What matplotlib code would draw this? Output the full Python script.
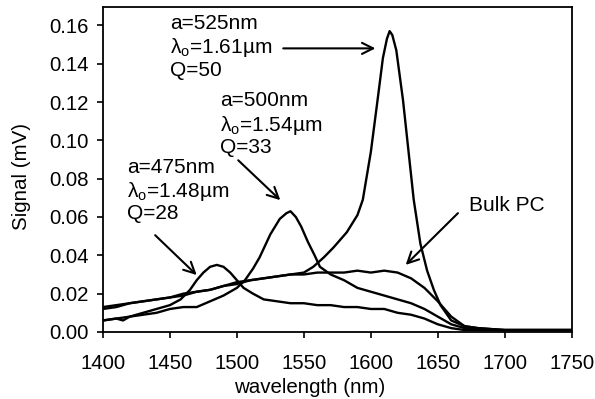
import matplotlib
matplotlib.use("Agg")
import matplotlib.pyplot as plt

plt.rcParams['font.family'] = ['Liberation Sans', 'DejaVu Sans']
plt.rcParams['mathtext.default'] = 'regular'

# ---- data ----
wl_bulk = [1400, 1410, 1420, 1430, 1440, 1450, 1460, 1470, 1480, 1490, 1500, 1510, 1520,
           1530, 1540, 1550, 1560, 1570, 1580, 1590, 1600, 1610, 1620, 1630, 1640, 1650,
           1660, 1670, 1680, 1700, 1720, 1750]
sig_bulk = [0.013, 0.014, 0.015, 0.016, 0.017, 0.018, 0.020, 0.021, 0.022, 0.024, 0.025,
            0.027, 0.028, 0.029, 0.030, 0.030, 0.031, 0.031, 0.031, 0.032, 0.031, 0.032,
            0.031, 0.028, 0.023, 0.016, 0.008, 0.003, 0.002, 0.001, 0.001, 0.001]

wl_525 = [1400, 1410, 1420, 1430, 1440, 1450, 1460, 1470, 1480, 1490, 1500, 1510, 1520,
          1530, 1540, 1550, 1557, 1565, 1572, 1582, 1590, 1594, 1600, 1605, 1609, 1612,
          1614, 1616, 1619, 1624, 1628, 1632, 1637, 1642, 1647, 1652, 1660, 1670, 1680,
          1700, 1750]
sig_525 = [0.012, 0.013, 0.015, 0.016, 0.017, 0.018, 0.019, 0.021, 0.022, 0.024, 0.026,
           0.027, 0.028, 0.029, 0.030, 0.031, 0.034, 0.039, 0.044, 0.052, 0.061, 0.069,
           0.094, 0.121, 0.143, 0.153, 0.157, 0.155, 0.147, 0.121, 0.095, 0.069, 0.046,
           0.032, 0.022, 0.014, 0.006, 0.003, 0.002, 0.001, 0.001]

wl_500 = [1400, 1410, 1415, 1420, 1430, 1440, 1450, 1460, 1470, 1480, 1490, 1500, 1506,
          1512, 1517, 1525, 1532, 1537, 1540, 1544, 1548, 1553, 1558, 1562, 1570, 1580,
          1590, 1600, 1610, 1620, 1630, 1640, 1650, 1660, 1670, 1680, 1750]
sig_500 = [0.006, 0.007, 0.006, 0.008, 0.009, 0.010, 0.012, 0.013, 0.013, 0.016, 0.019,
           0.023, 0.027, 0.033, 0.039, 0.051, 0.059, 0.062, 0.063, 0.060, 0.055, 0.047,
           0.040, 0.034, 0.030, 0.027, 0.023, 0.021, 0.019, 0.017, 0.015, 0.012, 0.008,
           0.004, 0.002, 0.001, 0.001]

wl_475 = [1400, 1410, 1420, 1430, 1440, 1450, 1458, 1465, 1470, 1475, 1480, 1485, 1490,
          1495, 1500, 1505, 1512, 1520, 1530, 1540, 1550, 1560, 1570, 1580, 1590, 1600,
          1610, 1620, 1630, 1640, 1650, 1660, 1670, 1750]
sig_475 = [0.006, 0.007, 0.008, 0.010, 0.012, 0.014, 0.017, 0.022, 0.027, 0.031, 0.034,
           0.035, 0.034, 0.031, 0.027, 0.023, 0.020, 0.017, 0.016, 0.015, 0.015, 0.014,
           0.014, 0.013, 0.013, 0.012, 0.012, 0.010, 0.009, 0.007, 0.004, 0.002, 0.001,
           0.001]

x_ticks = [1400, 1450, 1500, 1550, 1600, 1650, 1700, 1750]
y_ticks = [0.00, 0.02, 0.04, 0.06, 0.08, 0.10, 0.12, 0.14, 0.16]

fig = plt.figure(figsize=(5.95, 3.99), dpi=100)
ax = fig.add_axes([0.173, 0.168, 0.788, 0.814])

for wl, s in [(wl_bulk, sig_bulk), (wl_525, sig_525), (wl_500, sig_500), (wl_475, sig_475)]:
    ax.plot(wl, s, color='black', lw=1.7)

ax.set_xlim(1400, 1750)
ax.set_ylim(0, 0.1695)
ax.set_xticks(x_ticks)
ax.set_yticks(y_ticks)
ax.set_yticklabels([f"{v:.2f}" for v in y_ticks])
ax.tick_params(direction='out', length=4, width=1.2, labelsize=14.7)
ax.tick_params(axis='x', pad=12)
ax.tick_params(axis='y', pad=6)
for sp in ax.spines.values():
    sp.set_linewidth(1.3)

ax.set_xlabel('wavelength (nm)', fontsize=14.8)
ax.set_ylabel('Signal (mV)', fontsize=14.8)
ax.xaxis.set_label_coords(0.441, -0.143)
ax.yaxis.set_label_coords(-0.154, 0.48)

fs = 15
def block(x, ys, a, lam, q):
    ax.text(x, ys[0], a, fontsize=fs, va='center', ha='left')
    ax.text(x, ys[1], r'λ$_{o}$=' + lam, fontsize=fs, va='center', ha='left')
    ax.text(x, ys[2], q, fontsize=fs, va='center', ha='left')

block(1450, [0.161, 0.1485, 0.1365], 'a=525nm', '1.61µm', 'Q=50')
block(1487.5, [0.121, 0.108, 0.0964], 'a=500nm', '1.54µm', 'Q=33')
block(1418, [0.086, 0.0735, 0.062], 'a=475nm', '1.48µm', 'Q=28')
ax.text(1673, 0.066, 'Bulk PC', fontsize=fs, va='center', ha='left')

ap = dict(arrowstyle='->', color='black', lw=1.5, mutation_scale=20, shrinkA=0, shrinkB=0)
ax.annotate('', xy=(1603.4, 0.148), xytext=(1534.6, 0.148), arrowprops=ap)
ax.annotate('', xy=(1532.4, 0.0688), xytext=(1501, 0.0896), arrowprops=ap)
ax.annotate('', xy=(1470, 0.0297), xytext=(1439, 0.0505), arrowprops=ap)
ax.annotate('', xy=(1626, 0.035), xytext=(1665, 0.062), arrowprops=ap)

fig.savefig('out.png', dpi=100)
